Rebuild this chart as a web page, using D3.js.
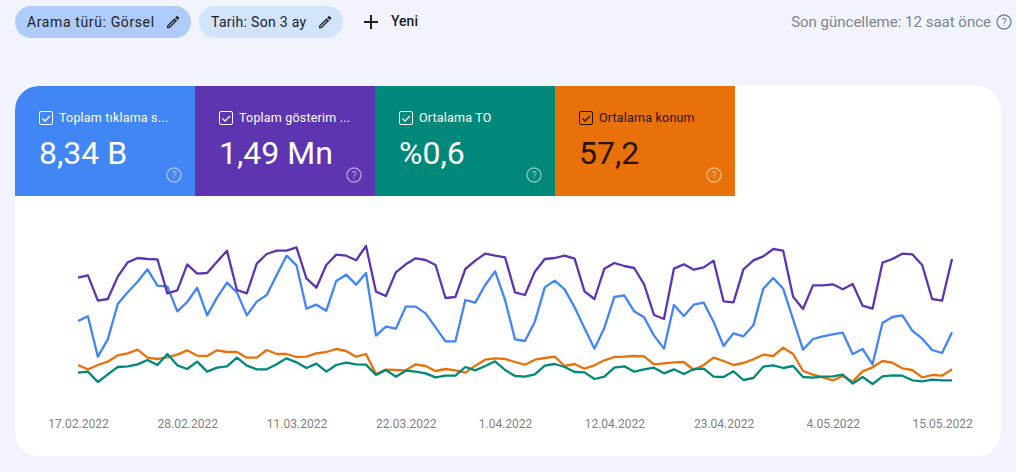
<!DOCTYPE html>
<html>
<head>
<meta charset="utf-8">
<script src="https://cdn.jsdelivr.net/npm/d3@7"></script>
<style>
  html, body { margin: 0; padding: 0; background: #f1f4fd; overflow: hidden; }
  svg { display: block; font-family: Roboto, sans-serif; }
  .axis text { font-size: 12px; fill: #80807f; font-family: Roboto, sans-serif; }
</style>
</head>
<body>
<div id="chart"></div>
<script>
// the four series have separate hidden axes in the report, so values are a shared height index
const startDate = new Date(2022, 1, 17);
const endDate = new Date(2022, 4, 16);
const tickDates = [
  new Date(2022, 1, 17), new Date(2022, 1, 28), new Date(2022, 2, 11),
  new Date(2022, 2, 22), new Date(2022, 3, 1), new Date(2022, 3, 12),
  new Date(2022, 3, 23), new Date(2022, 4, 4), new Date(2022, 4, 15)
];

const clicks = [
  237,251,130,182,288,323,355,392,343,340,266,294,337,254,307,352,323,254,295,315,374,433,404,274,286,268,357,376,346,381,
  193,220,214,280,280,260,218,176,176,300,292,345,386,300,182,177,235,338,358,332,278,215,154,217,309,314,266,248,193,154,
  285,252,286,292,234,162,200,191,224,334,366,334,242,151,183,191,197,202,138,153,107,231,249,254,208,184,150,141,203
];
const impressions = [
  367,374,298,303,370,413,426,423,422,320,329,407,379,381,415,448,330,320,409,438,448,448,458,365,337,405,436,433,419,462,
  325,312,383,407,425,420,405,306,309,393,418,439,433,428,323,315,385,423,426,433,424,326,303,394,411,402,396,347,255,243,
  394,407,391,398,418,296,293,392,419,431,453,448,310,273,344,344,347,332,348,283,274,412,423,439,437,405,303,298,423
];
const ctr = [
  82,85,54,77,99,101,107,120,105,138,104,93,115,85,97,101,127,103,92,92,107,125,113,96,109,85,105,112,107,106,
  75,90,70,88,85,80,68,73,73,99,89,102,116,90,72,70,77,103,108,99,84,83,63,70,97,101,85,92,97,80,
  92,78,93,94,70,69,86,60,66,100,104,96,102,69,67,70,71,76,49,69,48,71,74,73,59,56,61,59,59
];
const position = [
  105,92,105,115,134,140,151,127,123,128,136,149,133,132,149,144,144,127,127,150,138,138,129,130,140,144,153,147,130,138,
  78,91,90,89,107,102,87,93,89,82,103,121,125,123,114,106,121,126,130,102,108,94,104,119,129,130,132,131,107,110,
  113,114,90,105,127,117,105,111,122,136,132,157,138,87,76,68,59,72,55,86,98,117,112,95,90,68,75,73,92
];

const tileTitles = ['Toplam tıklama s...', 'Toplam gösterim ...', 'Ortalama TO', 'Ortalama konum'];
const tileValues = ['8,34 B', '1,49 Mn', '%0,6', '57,2'];
const tileColors = ['#4285f4', '#5e35b1', '#00897b', '#e8710a'];
const tileInk = ['#ffffff', '#ffffff', '#ffffff', '#2b1303'];

const width = 1016, height = 472;
const svg = d3.select('#chart').append('svg').attr('width', width).attr('height', height);

// card
svg.append('rect').attr('x', 15).attr('y', 86).attr('width', 986).attr('height', 370).attr('rx', 24).attr('fill', '#fff');

// filter chips
const pencil = 'M14.06 9.02l.92.92L5.92 19H5v-.92l9.06-9.06M17.66 3c-.25 0-.51.1-.7.29l-1.83 1.83 3.75 3.75 1.83-1.83c.39-.39.39-1.02 0-1.41l-2.34-2.34c-.2-.2-.45-.29-.71-.29zm-3.6 3.19L3 17.25V21h3.75L17.81 9.94l-3.75-3.75z';
const chips = [
  { x: 15, w: 176, fill: '#aecbfa', label: 'Arama türü: Görsel', icon: 165, spacing: 0.62 },
  { x: 199, w: 144, fill: '#d2e3fc', label: 'Tarih: Son 3 ay', icon: 317, spacing: 0.3 }
];
chips.forEach(c => {
  svg.append('rect').attr('x', c.x).attr('y', 6).attr('width', c.w).attr('height', 32).attr('rx', 16).attr('fill', c.fill);
  svg.append('text').attr('x', c.x + 12).attr('y', 27).attr('font-size', 14).attr('letter-spacing', c.spacing)
    .attr('fill', '#202124').text(c.label);
  svg.append('path').attr('d', pencil).attr('transform', `translate(${c.icon},14) scale(0.68)`).attr('fill', '#202124');
});
svg.append('path').attr('d', 'M371 15v14M364 22h14').attr('stroke', '#202124').attr('stroke-width', 2).attr('fill', 'none');
svg.append('text').attr('x', 391).attr('y', 26).attr('font-size', 14).attr('font-weight', 500).attr('fill', '#202124').text('Yeni');

svg.append('text').attr('x', 991).attr('y', 27).attr('text-anchor', 'end').attr('font-size', 15)
  .attr('fill', '#80868b').text('Son güncelleme: 12 saat önce');

function helpIcon(x, y, color, op) {
  const g = svg.append('g').attr('opacity', op);
  g.append('circle').attr('cx', x).attr('cy', y).attr('r', 7).attr('fill', 'none').attr('stroke', color).attr('stroke-width', 1.4);
  g.append('text').attr('x', x).attr('y', y + 4).attr('text-anchor', 'middle').attr('font-size', 11).attr('fill', color).text('?');
}
helpIcon(1004, 22, '#80868b', 1);

// metric tiles
const tileScale = d3.scaleBand().domain(d3.range(tileTitles.length)).range([15, 735]);
tileTitles.forEach((title, i) => {
  const x0 = tileScale(i);
  const path = i === 0
    ? `M${x0} 196V110a24 24 0 0 1 24-24H${x0 + tileScale.bandwidth()}V196Z`
    : `M${x0} 86H${x0 + tileScale.bandwidth()}V196H${x0}Z`;
  svg.append('path').attr('d', path).attr('fill', tileColors[i]);
  svg.append('rect').attr('x', x0 + 24.5).attr('y', 111.5).attr('width', 13).attr('height', 13).attr('rx', 1.5)
    .attr('fill', 'none').attr('stroke', tileInk[i]).attr('stroke-width', 1);
  svg.append('path').attr('d', `M${x0 + 27.5} 118.5l2.5 2.5 5-5`).attr('fill', 'none').attr('stroke', tileInk[i]).attr('stroke-width', 1.3);
  svg.append('text').attr('x', x0 + 44).attr('y', 122).attr('font-size', 12.5).attr('letter-spacing', 0.2)
    .attr('fill', tileInk[i]).text(title);
  svg.append('text').attr('x', x0 + 24).attr('y', 164).attr('font-size', 32)
    .attr('fill', tileInk[i]).text(tileValues[i]);
  helpIcon(x0 + 159, 175, '#ffffff', 0.5);
});

// line chart
const xScale = d3.scaleTime().domain([startDate, endDate]).range([78, 952]);
const yScale = d3.scaleLinear().domain([0, 510]).range([400, 230]);

const dateAt = i => d3.timeDay.offset(startDate, i);
const line = d3.line()
  .x((d, i) => xScale(dateAt(i)))
  .y(d => yScale(d));

const seriesList = [clicks, impressions, position, ctr];
const seriesColors = ['#4285f4', '#5e35b1', '#e8710a', '#00897b'];
svg.selectAll('.series')
  .data(seriesList)
  .join('path')
  .attr('class', 'series')
  .attr('d', line)
  .attr('fill', 'none')
  .attr('stroke', (d, i) => seriesColors[i])
  .attr('stroke-width', 2.3)
  .attr('stroke-linejoin', 'round');

const xAxis = d3.axisBottom(xScale)
  .tickValues(tickDates)
  .tickSize(0)
  .tickPadding(0)
  .tickFormat(d3.timeFormat('%-d.%m.%Y'));
const xAxisG = svg.append('g')
  .attr('class', 'axis')
  .attr('transform', 'translate(0,419)')
  .call(xAxis);
xAxisG.select('.domain').remove();
</script>
</body>
</html>
